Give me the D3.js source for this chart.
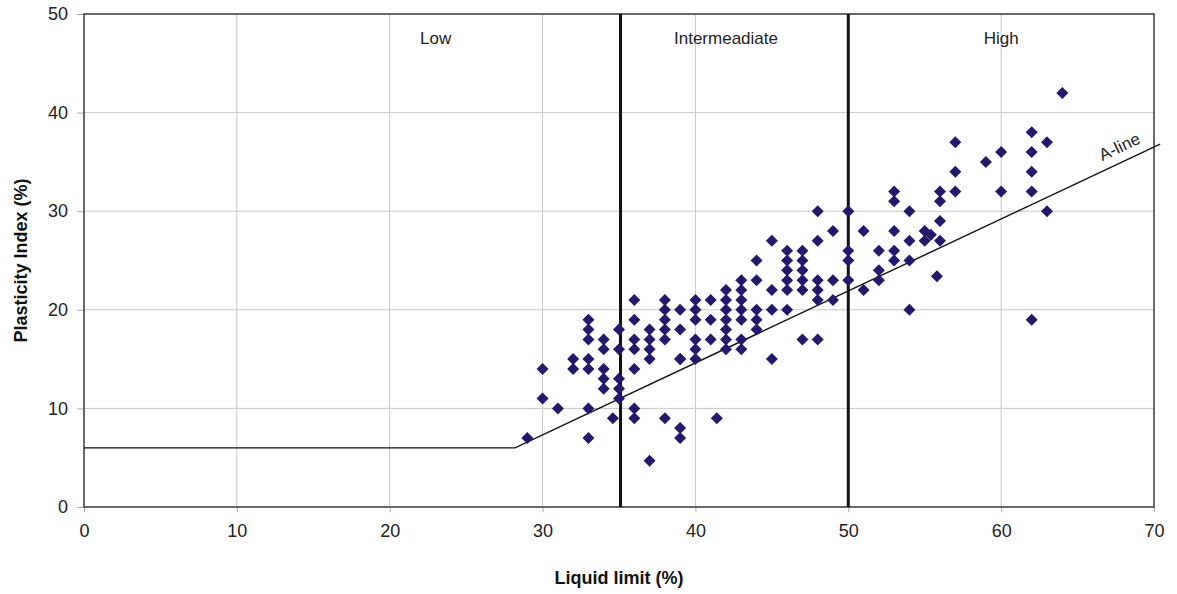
<!DOCTYPE html>
<html><head><meta charset="utf-8">
<script src="https://cdn.jsdelivr.net/npm/d3@7"></script>
<style>body{margin:0;background:#fff;}svg{display:block;font-family:"Liberation Sans",Arial,sans-serif;}</style>
</head><body>
<svg id="c" width="1177" height="594"></svg>
<script>
const liquidLimit = [29,30,30,31,32,32,33,33,33,33,33,33,33,34,34,34,34,34,34.6,35,35,35,35,35,
  36,36,36,36,36,36,36,37,37,37,37,37,38,38,38,38,38,38,39,39,39,39,39,39,
  40,40,40,40,40,40,41,41,41,41.4,42,42,42,42,42,42,42,43,43,43,43,43,43,43,
  44,44,44,44,44,45,45,45,45,46,46,46,46,46,46,47,47,47,47,47,47,
  48,48,48,48,48,48,49,49,49,50,50,50,50,51,51,52,52,52,53,53,53,53,53,
  54,54,54,54,55,55.4,55,55.8,56,56,56,56,57,57,57,59,60,60,62,62,62,62,62,63,63,64];
const plasticityIndex = [7,14,11,10,15,14,19,18,17,15,14,10,7,17,16,14,13,12,9,18,16,13,12,11,
  21,19,17,16,14,10,9,18,17,16,15,4.7,21,20,19,18,17,9,20,18,15,8,7,15,
  21,20,19,17,16,15,21,19,17,9,22,21,20,19,18,17,16,23,22,21,20,19,17,16,
  25,23,20,19,18,27,22,20,15,26,25,24,23,22,20,26,25,24,23,22,17,
  30,27,23,22,21,17,28,23,21,30,26,25,23,28,22,26,24,23,32,31,28,26,25,
  30,27,25,20,28,27.6,27,23.4,32,31,29,27,37,34,32,35,36,32,38,36,34,32,19,37,30,42];
const xTicks = [0,10,20,30,40,50,60,70];
const yTicks = [0,10,20,30,40,50];
const zoneBounds = [35.1,50];
const zoneLabels = [{name:"Low",x:23},{name:"Intermeadiate",x:42},{name:"High",x:60}];
const aLinePts = [[0,6],[28.2,6],[70.4,36.8]];

const svg = d3.select("#c");
const m = {l:84, r:1154, t:14, b:507};
const x = d3.scaleLinear().domain([0,70]).range([m.l,m.r]);
const y = d3.scaleLinear().domain([0,50]).range([m.b,m.t]);

// grid
svg.append("g").selectAll("line").data(xTicks.slice(1,-1)).join("line")
  .attr("x1",d=>x(d)).attr("x2",d=>x(d)).attr("y1",m.t).attr("y2",m.b)
  .attr("stroke","#c8c8c8").attr("stroke-width",1);
svg.append("g").selectAll("line").data(yTicks.slice(1,-1)).join("line")
  .attr("x1",m.l).attr("x2",m.r).attr("y1",d=>y(d)).attr("y2",d=>y(d))
  .attr("stroke","#c8c8c8").attr("stroke-width",1);

// axes
const xAxis = d3.axisBottom(x).tickValues(xTicks).tickSize(5).tickPadding(12).tickSizeOuter(0);
const gx = svg.append("g").attr("transform",`translate(0,${m.b})`).call(xAxis);
gx.select(".domain").remove();
gx.selectAll("line").attr("stroke","#aaa");
gx.selectAll("text").attr("font-size",18).attr("fill","#222");
const yAxis = d3.axisLeft(y).tickValues(yTicks).tickSize(7).tickPadding(9).tickSizeOuter(0);
const gy = svg.append("g").attr("transform",`translate(${m.l},0)`).call(yAxis);
gy.select(".domain").remove();
gy.selectAll("line").attr("stroke","#aaa");
gy.selectAll("text").attr("font-size",18).attr("fill","#222");

// frame
svg.append("rect").attr("x",m.l).attr("y",m.t).attr("width",m.r-m.l).attr("height",m.b-m.t)
  .attr("fill","none").attr("stroke","#444").attr("stroke-width",1.6);

// zone boundaries
svg.append("g").selectAll("line").data(zoneBounds).join("line")
  .attr("x1",d=>x(d)).attr("x2",d=>x(d)).attr("y1",m.t).attr("y2",m.b)
  .attr("stroke","#111").attr("stroke-width",3);

svg.append("g").selectAll("text").data(zoneLabels).join("text")
  .attr("x",d=>x(d.x)).attr("y",y(47))
  .attr("text-anchor","middle").attr("font-size",17).attr("fill","#222").text(d=>d.name);

// A-line
svg.append("path").datum(aLinePts)
  .attr("d",d3.line().x(d=>x(d[0])).y(d=>y(d[1])))
  .attr("fill","none").attr("stroke","#111").attr("stroke-width",1.4);
const dx = x(70)-x(28.2), dy = y(36.6)-y(6);
const angle = Math.atan2(dy,dx)*180/Math.PI;
svg.append("text").attr("transform",`translate(${x(67.9)},${y(36.0)}) rotate(${angle})`)
  .attr("font-size",17).attr("fill","#222").attr("text-anchor","middle").text("A-line");

// points
svg.append("g").selectAll("path").data(liquidLimit.map((v,i)=>[v,plasticityIndex[i]])).join("path")
  .attr("transform",d=>`translate(${x(d[0])},${y(d[1])}) rotate(45)`)
  .attr("d",d3.symbol().type(d3.symbolSquare).size(72)())
  .attr("fill","#22196e");

// titles
svg.append("text").attr("x",x(35)).attr("y",584).attr("text-anchor","middle")
  .attr("font-size",18).attr("font-weight","bold").attr("fill","#111").text("Liquid limit (%)");
svg.append("text").attr("transform",`translate(27,${(m.t+m.b)/2}) rotate(-90)`).attr("text-anchor","middle")
  .attr("font-size",18).attr("font-weight","bold").attr("fill","#111").text("Plasticity Index (%)");
</script>
</body></html>
